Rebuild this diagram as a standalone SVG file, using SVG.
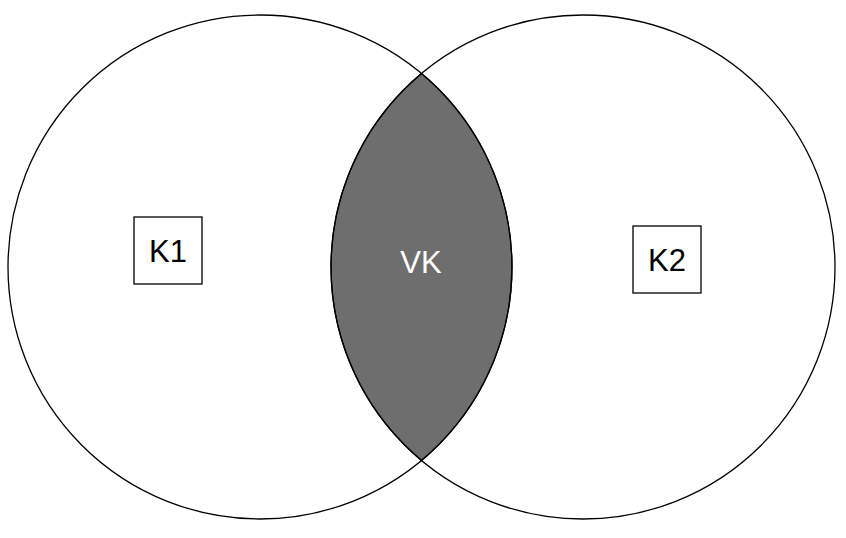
<svg xmlns="http://www.w3.org/2000/svg" width="846" height="538" viewBox="0 0 846 538">
<style>
.c{fill:none;stroke:#000;stroke-width:1.3}
.b{fill:#fff;stroke:#000;stroke-width:1.3}
.t{font-family:"Liberation Sans",Arial,sans-serif;font-size:31px;text-anchor:middle;dominant-baseline:central}
</style>
<rect width="846" height="538" fill="#fff"/>
<g id="lens"><path d="M421.5,73.6 A252,252 0 0 1 421.5,460.4 A252,252 0 0 1 421.5,73.6 Z" fill="#6e6e6e" stroke="#000" stroke-width="1.3"/>
<text class="t" x="421" y="262" fill="#fff">VK</text></g>
<g id="circles">
<circle id="circleK1" class="c" cx="260" cy="267" r="252"/>
<circle id="circleK2" class="c" cx="583" cy="267" r="252"/>
</g>
<g id="K1"><rect class="b" x="134" y="217" width="68" height="67"/><text class="t" x="168" y="251">K1</text></g>
<g id="K2"><rect class="b" x="633" y="226" width="68" height="67"/><text class="t" x="667" y="260">K2</text></g>
</svg>
